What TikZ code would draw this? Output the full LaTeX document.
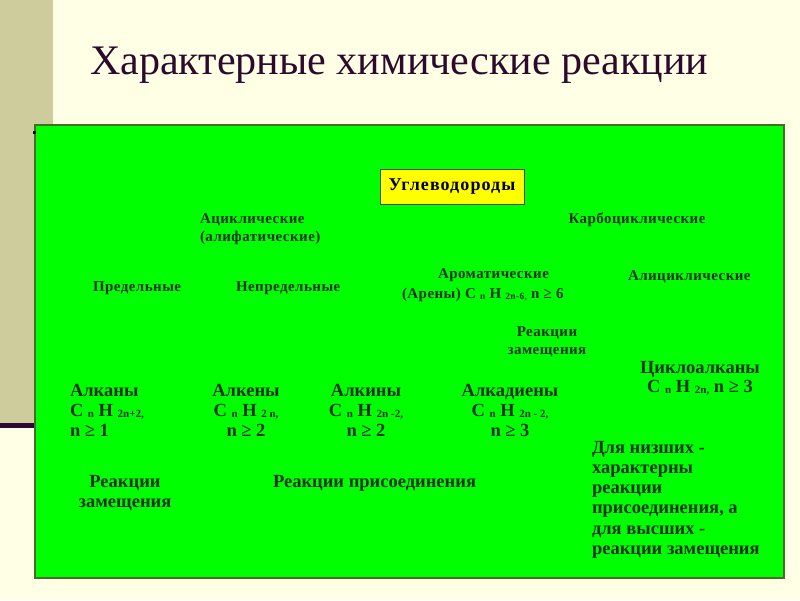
\documentclass[tikz,border=0pt]{standalone}
\usepackage{fontspec}
\setmainfont{Liberation Serif}
\definecolor{bgc}{RGB}{255,255,229}
\definecolor{stripc}{RGB}{206,204,156}
\definecolor{linec}{RGB}{45,10,50}
\definecolor{boxg}{RGB}{0,255,0}
\definecolor{boxedge}{RGB}{70,110,40}
\definecolor{txtg}{RGB}{8,50,8}
\definecolor{titlec}{RGB}{45,10,45}
\definecolor{yel}{RGB}{255,255,0}
\newcommand{\sbB}[1]{\raisebox{-0.2ex}{\fontsize{11}{11}\selectfont #1}}
\newcommand{\sbS}[1]{\raisebox{-0.2ex}{\fontsize{9.5}{9.5}\selectfont #1}}
\tikzset{
  every node/.style={inner sep=0pt, outer sep=0pt},
  small/.style={text=txtg, font=\fontsize{15}{18}\selectfont\bfseries\addfontfeature{LetterSpace=3}},
  big/.style={text=txtg, font=\fontsize{18.5}{20}\selectfont\bfseries},
  mid/.style={text=txtg, font=\fontsize{18.5}{20}\selectfont\bfseries}
}
\begin{document}
\begin{tikzpicture}[x=1pt,y=-1pt]
\useasboundingbox (0,0) rectangle (800,600);
\fill[bgc] (0,0) rectangle (800,600);
\fill[stripc] (0,0) rectangle (53,424);
\fill[linec] (0,423) rectangle (35,428);
\node[anchor=base west, text=titlec, font=\fontsize{42.1}{50}\selectfont] (title) at (90,74) {Характерные химические реакции};
\draw[boxedge, fill=boxg, line width=1.2pt] (35,125) rectangle (784,578);
\fill[black] (33,131) rectangle (36,134);
\node[draw=black!80!yellow, fill=yel, line width=0.8pt, minimum width=144pt, minimum height=35pt,
      font=\fontsize{18}{20}\selectfont\bfseries\addfontfeature{LetterSpace=6}] (hc) at (452,187) {Углеводороды};
\node[small, anchor=base west, align=left] (acyc) at (200,241) {Ациклические\\(алифатические)};
\node[small, anchor=base] (carb) at (637,223) {Карбоциклические};
\node[small, anchor=base west] (pred) at (93,291) {Предельные};
\node[small, anchor=base west] (nepred) at (236,291) {Непредельные};
\node[small, anchor=base west, align=left, font=\fontsize{15}{20}\selectfont\bfseries\addfontfeature{LetterSpace=3}] (arom) at (402,298) {\hspace*{36pt}Ароматические\\(Арены) C \sbS{n} H \sbS{2n-6,} n ≥ 6};
\node[small, anchor=base west] (alic) at (628,280) {Алициклические};
\node[small, anchor=base, align=center] (rz1) at (547,354) {Реакции\\замещения};
\node[big, anchor=base, align=center, font=\fontsize{18.5}{19}\selectfont\bfseries] (cyc) at (700,392) {Циклоалканы\\C \sbB{n} H \sbB{2n,} n ≥ 3};
\node[big, anchor=base west, align=left] (alkany) at (70,436) {Алканы\\C \sbB{n} H \sbB{2n+2,}\\n ≥ 1};
\node[big, anchor=base, align=center] (alkeny) at (246,436) {Алкены\\C \sbB{n} H \sbB{2 n,}\\n ≥ 2};
\node[big, anchor=base, align=center] (alkiny) at (366,436) {Алкины\\C \sbB{n} H \sbB{2n -2,}\\n ≥ 2};
\node[big, anchor=base, align=center] (alkad) at (510,436) {Алкадиены\\C \sbB{n} H \sbB{2n - 2,}\\n ≥ 3};
\node[mid, anchor=base, align=center] (rz2) at (125,507) {Реакции\\замещения};
\node[mid, anchor=base west] (rp) at (273,487) {Реакции присоединения};
\node[mid, anchor=base west, align=left, font=\fontsize{18.5}{20.3}\selectfont\bfseries] (low) at (592,554.5) {Для низших -\\характерны\\реакции\\присоединения, а\\для высших -\\реакции замещения};
\end{tikzpicture}
\end{document}
